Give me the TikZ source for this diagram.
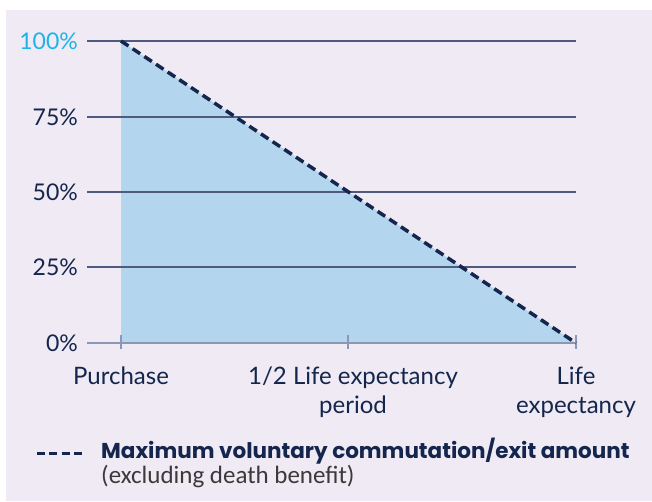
\documentclass[tikz,border=0pt]{standalone}
\usepackage{fontspec}
\setmainfont{Lato}
\newfontfamily\legendfont{Poppins}
\newfontfamily\notefont{Carlito}
\usetikzlibrary{positioning}
\definecolor{chartbg}{HTML}{EFEAF3}
\definecolor{chartfill}{HTML}{B3D5EE}
\definecolor{chartnavy}{HTML}{14264D}
\definecolor{chartgrid}{HTML}{4E5A7E}
\definecolor{chartaxis}{HTML}{8C97B5}
\definecolor{chartcyan}{HTML}{1CB4EA}
\definecolor{chartgray}{HTML}{3A3A3A}
\tikzset{
    gridline/.style={draw=chartgrid, line width=1.3pt},
    axisline/.style={draw=chartaxis, line width=1.3pt},
    pctlabel/.style={anchor=east, inner sep=0pt, text=chartnavy, font=\fontsize{23}{26}\selectfont},
    xlabel/.style={anchor=base, inner sep=0pt, align=center, text=chartnavy, font=\fontsize{24}{29}\selectfont},
    exitline/.style={draw=chartnavy, line width=3.5pt, dash pattern=on 9pt off 5pt},
    legendline/.style={draw=chartnavy, line width=3pt, dash pattern=on 8pt off 4.3pt}
}

\begin{document}
\begin{tikzpicture}[x=1pt, y=-1pt]
    \useasboundingbox (0,0) rectangle (652,502);
    \fill[chartbg] (6,10) rectangle (652,501);

    % Corner points of the chart
    \coordinate (top) at (121,41);
    \coordinate (origin) at (121,343);
    \coordinate (end) at (576,343);

    % Shaded area
    \fill[chartfill] (top) -- (end) -- (origin) -- cycle;

    % Grid lines and percentages
    \node[pctlabel, text=chartcyan] (p100) at (78,41) {100\%};
    \foreach \y/\pct in {117/75,192/50,267/25} {
        \node[pctlabel] (p\pct) at (78,\y) {\pct\%};
    }
    \foreach \y/\pct in {41/100,117/75,192/50,267/25} {
        \coordinate (g\pct) at (87,\y);
        \coordinate (h\pct) at (576,\y);
        \path[gridline] (g\pct) -- (h\pct);
    }
    \node[pctlabel] (p0) at (78,343) {0\%};
    \coordinate (g0) at (87,343);
    \path[axisline] (g0) -- (end);

    % Ticks
    \foreach \x/\name in {121/buy,348/half,576/life} {
        \coordinate (t\name) at (\x,335);
        \coordinate (b\name) at (\x,349);
        \path[axisline] (t\name) -- (b\name);
    }

    % Axis labels (two-line ones sit on their second baseline)
    \node[xlabel] (purchase) at (121,384) {Purchase};
    \node[xlabel] (halflife) at (353,413) {1/2 Life expectancy\\period};
    \node[xlabel] (lifeexp) at (576,413) {Life\\expectancy};

    % Exit amount
    \path[exitline] (top) -- (end);

    % Legend
    \coordinate (ls) at (37,453);
    \coordinate (le) at (82,453);
    \path[legendline] (ls) -- (le);
    \node[anchor=base west, inner sep=0pt, text=chartnavy, font=\legendfont\bfseries\fontsize{21.5}{26}\selectfont] (legend) at (101,458) {Maximum voluntary commutation/exit amount};
    \node[anchor=base west, inner sep=0pt, text=chartgray, font=\notefont\fontsize{25}{28}\selectfont] (note) at (101,483) {(excluding death benefit)};
\end{tikzpicture}
\end{document}
